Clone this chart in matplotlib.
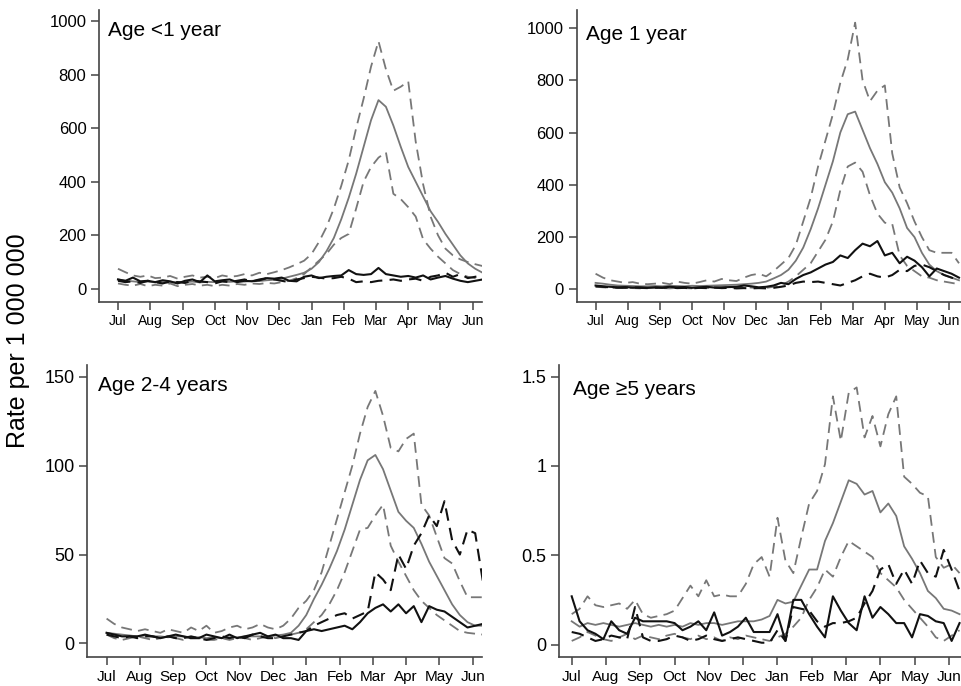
import numpy as np
import matplotlib.pyplot as plt

plt.rcParams['font.family'] = ['Liberation Sans', 'DejaVu Sans']

months = ['Jul', 'Aug', 'Sep', 'Oct', 'Nov', 'Dec', 'Jan', 'Feb', 'Mar', 'Apr', 'May', 'Jun']

# Age <1 year (weekly rates, Jul -> Jun)
lt1_mean = [35, 30, 28, 25, 27, 24, 25, 22, 26, 25, 27, 24, 26, 25, 27, 26, 28, 27, 30, 29, 32, 34,
            38, 45, 52, 60, 75, 100, 140, 190, 260, 340, 430, 530, 630, 705, 680, 610, 530, 455,
            400, 345, 290, 250, 205, 165, 125, 95, 75, 60]
lt1_max = [75, 62, 50, 45, 50, 40, 42, 48, 38, 45, 50, 42, 45, 40, 50, 45, 48, 55, 50, 60, 55, 62,
           70, 80, 92, 105, 130, 175, 230, 300, 385, 480, 600, 710, 830, 925, 820, 740, 755, 775,
           550, 390, 270, 200, 150, 125, 110, 100, 92, 85]
lt1_min = [20, 15, 12, 18, 10, 15, 12, 20, 10, 15, 18, 12, 15, 10, 15, 12, 18, 15, 20, 18, 22, 20,
           25, 30, 40, 55, 80, 105, 130, 165, 190, 205, 300, 400, 455, 490, 510, 355, 335, 305,
           270, 185, 150, 120, 95, 70, 55, 45, 40, 35]
lt1_post1 = [35, 30, 42, 28, 30, 25, 32, 28, 20, 30, 35, 25, 50, 28, 32, 35, 25, 30, 28, 35, 40, 38,
             42, 30, 28, 45, 50, 40, 45, 48, 50, 70, 55, 52, 55, 78, 55, 50, 45, 48,
             42, 50, 35, 42, 48, 38, 30, 25, 30, 35]
lt1_post2 = [30, 25, 28, 22, 30, 25, 20, 28, 25, 22, 30, 28, 25, 20, 28, 25, 30, 35, 28, 32, 40, 35,
             30, 25, 35, 40, 45, 42, 38, 40, 45, 38, 25, 28, 25, 30, 32, 35, 30, 35,
             38, 30, 45, 50, 60, 45, 55, 40, 45, 50]

# Age 1 year
a1_mean = [25, 22, 18, 15, 14, 13, 12, 12, 13, 12, 14, 13, 12, 14, 13, 14, 15, 16, 17, 18, 20, 22,
           25, 30, 42, 55, 75, 110, 160, 230, 310, 400, 490, 600, 670, 680, 610, 540, 480, 410,
           370, 310, 235, 200, 140, 95, 70, 55, 45, 35]
a1_max = [60, 45, 35, 30, 25, 28, 22, 20, 22, 25, 20, 30, 25, 22, 28, 35, 30, 40, 35, 32, 45, 55,
          60, 50, 70, 95, 120, 170, 260, 350, 470, 570, 670, 790, 880, 1020, 800, 720, 760, 780,
          520, 390, 330, 260, 200, 150, 140, 140, 140, 100]
a1_min = [10, 8, 6, 5, 6, 5, 4, 5, 6, 5, 4, 6, 5, 4, 6, 5, 7, 6, 8, 6, 8, 7,
          5, 6, 10, 15, 30, 50, 75, 100, 145, 190, 260, 380, 470, 485, 450, 360, 290, 255,
          250, 130, 90, 70, 50, 45, 35, 30, 25, 20]
a1_post1 = [15, 12, 10, 8, 9, 7, 8, 6, 8, 7, 10, 8, 9, 6, 8, 10, 7, 8, 9, 10, 15, 12,
            8, 10, 15, 25, 20, 40, 55, 65, 80, 95, 105, 130, 120, 150, 175, 165, 185, 130,
            140, 100, 125, 110, 85, 50, 80, 70, 60, 45]
a1_post2 = [12, 10, 8, 7, 6, 8, 6, 5, 7, 6, 8, 5, 6, 4, 6, 5, 7, 5, 6, 4, 5, 4,
            5, 4, 6, 10, 15, 25, 30, 28, 30, 25, 20, 15, 25, 35, 50, 60, 50, 45,
            55, 75, 70, 90, 95, 85, 70, 55, 45, 35]

# Age 2-4 years
a24_mean = [6, 5.5, 5, 4.5, 4, 4.5, 4, 4, 3.5, 4, 4, 3.5, 3.5, 3, 3.5, 3, 3.5, 3.5, 4, 4, 4, 4,
            4.5, 5, 6, 10, 16, 25, 33, 42, 52, 64, 78, 92, 103, 106, 98, 86, 74, 69,
            65, 56, 46, 38, 30, 22, 16, 12, 10, 10]
a24_max = [14, 11, 9, 8, 7, 8, 7, 6, 8, 7, 6, 9, 7, 10, 6, 7, 9, 10, 8, 9, 11, 9,
           8, 10, 14, 20, 24, 30, 40, 55, 70, 85, 100, 118, 133, 142, 128, 110, 108, 115,
           118, 78, 72, 60, 48, 45, 35, 26, 26, 26]
a24_min = [5, 3, 2, 3, 4, 3, 2, 3, 4, 3, 2, 3, 3, 2, 2, 3, 2, 3, 3, 2, 3, 4,
           3, 4, 5, 6, 8, 12, 16, 22, 30, 40, 52, 64, 65, 72, 78, 55, 46, 38,
           30, 24, 20, 16, 13, 10, 7, 6, 5.5, 5]
a24_post1 = [6, 5, 4, 4, 4, 5, 4, 3, 4, 5, 4, 3, 3, 5, 4, 3, 5, 3, 4, 5, 6, 4,
             5, 3, 3, 2, 7, 8, 7, 8, 9, 10, 8, 12, 17, 20, 22, 18, 22, 17,
             21, 12, 21, 19, 18, 15, 12, 9, 10, 11]
a24_post2 = [5, 4, 3, 4, 3, 4, 4, 3, 4, 3, 3, 4, 3, 2, 3, 4, 3, 4, 3, 5, 4, 3,
             3, 4, 5, 6, 7, 10, 12, 14, 16, 17, 14, 16, 18, 40, 36, 30, 50, 42,
             55, 62, 72, 66, 80, 58, 50, 64, 62, 35]

# Age >=5 years
a5_mean = [0.13, 0.1, 0.12, 0.11, 0.12, 0.11, 0.1, 0.11, 0.12, 0.11, 0.1, 0.11, 0.1, 0.11, 0.1,
           0.12, 0.11, 0.12, 0.12, 0.11, 0.12, 0.13, 0.13, 0.13, 0.14, 0.16, 0.25, 0.23, 0.24,
           0.33, 0.42, 0.42, 0.58, 0.68, 0.8, 0.92, 0.9, 0.84, 0.86, 0.74, 0.79, 0.72, 0.55,
           0.48, 0.4, 0.3, 0.26, 0.2, 0.19, 0.17]
a5_max = [0.17, 0.2, 0.27, 0.22, 0.21, 0.22, 0.23, 0.2, 0.25, 0.17, 0.15, 0.16, 0.17, 0.19, 0.26,
          0.33, 0.27, 0.36, 0.27, 0.28, 0.27, 0.27, 0.34, 0.45, 0.49, 0.38, 0.71, 0.47, 0.4,
          0.6, 0.79, 0.86, 1.01, 1.39, 1.14, 1.41, 1.44, 1.16, 1.28, 1.11, 1.29, 1.39, 0.94,
          0.9, 0.85, 0.83, 0.49, 0.43, 0.45, 0.4]
a5_min = [0.02, 0.04, 0.07, 0.05, 0.03, 0.02, 0.04, 0.06, 0.03, 0.05, 0.04, 0.03, 0.05, 0.06, 0.04,
          0.03, 0.05, 0.03, 0.04, 0.02, 0.04, 0.03, 0.05, 0.04, 0.03, 0.02, 0.04, 0.06, 0.1,
          0.15, 0.25, 0.32, 0.42, 0.38, 0.49, 0.58, 0.55, 0.52, 0.49, 0.4, 0.36, 0.32, 0.25,
          0.2, 0.15, 0.1, 0.04, 0.02, 0.05, 0.08]
a5_post1 = [0.27, 0.13, 0.08, 0.06, 0.03, 0.13, 0.08, 0.06, 0.15, 0.13, 0.13, 0.13, 0.13, 0.12, 0.08,
            0.1, 0.13, 0.08, 0.18, 0.05, 0.07, 0.1, 0.15, 0.07, 0.07, 0.07, 0.17, 0.02, 0.25,
            0.25, 0.17, 0.1, 0.04, 0.27, 0.19, 0.12, 0.08, 0.27, 0.15, 0.21, 0.17, 0.12, 0.12,
            0.04, 0.17, 0.16, 0.13, 0.12, 0.02, 0.12]
a5_post2 = [0.07, 0.06, 0.04, 0.02, 0.03, 0.05, 0.04, 0.03, 0.21, 0.04, 0.02, 0.02, 0.03, 0.05, 0.04,
            0.02, 0.03, 0.05, 0.03, 0.02, 0.03, 0.04, 0.03, 0.02, 0.01, 0.01, 0.08, 0.02, 0.21,
            0.2, 0.19, 0.13, 0.1, 0.12, 0.12, 0.13, 0.15, 0.23, 0.3, 0.42, 0.45, 0.34, 0.42,
            0.34, 0.47, 0.4, 0.38, 0.53, 0.42, 0.3]

GRAY = '#777777'
BLACK = '#111111'


def draw_panel(ax, title, mean, vmax, vmin, post1, post2, yticks, ylim, xlim, title_xy, fs_tick):
    weeks = np.arange(len(mean)) * 12 / 52
    ax.plot(weeks, vmax, color=GRAY, lw=1.3, ls=(0, (6, 3.5)))
    ax.plot(weeks, vmin, color=GRAY, lw=1.3, ls=(0, (6, 3.5)))
    ax.plot(weeks, mean, color=GRAY, lw=1.3)
    ax.plot(weeks, post2, color=BLACK, lw=1.5, ls=(0, (6, 3.5)))
    ax.plot(weeks, post1, color=BLACK, lw=1.5)

    ax.set_xlim(*xlim)
    ax.set_ylim(*ylim)
    ax.set_xticks(range(12))
    ax.set_xticklabels(months, fontsize=fs_tick[0])
    ax.set_yticks(yticks)
    ax.set_yticklabels(['%g' % t for t in yticks], fontsize=fs_tick[1])
    for s in ['top', 'right']:
        ax.spines[s].set_visible(False)
    for s in ['left', 'bottom']:
        ax.spines[s].set_color('#444444')
        ax.spines[s].set_linewidth(1.2)
    ax.tick_params(length=6, width=1.1, color='#444444', pad=3)
    ax.text(title_xy[0], title_xy[1], title, transform=ax.transAxes, fontsize=15, va='baseline')


fig = plt.figure(figsize=(9.61, 6.86), dpi=100)

ax1 = fig.add_axes([0.103, 0.560, 0.399, 0.426])
draw_panel(ax1, 'Age <1 year', lt1_mean, lt1_max, lt1_min, lt1_post1, lt1_post2,
           [0, 200, 400, 600, 800, 1000], (-48.6, 1043), (-0.59, 11.3), (0.024, 0.909), (10, 12))

ax2 = fig.add_axes([0.600, 0.560, 0.400, 0.426])
draw_panel(ax2, 'Age 1 year', a1_mean, a1_max, a1_min, a1_post1, a1_post2,
           [0, 200, 400, 600, 800, 1000], (-47.5, 1070), (-0.59, 11.37), (0.025, 0.897), (10, 12))

ax3 = fig.add_axes([0.0905, 0.042, 0.411, 0.426])
draw_panel(ax3, 'Age 2-4 years', a24_mean, a24_max, a24_min, a24_post1, a24_post2,
           [0, 50, 100, 150], (-7.7, 156.6), (-0.59, 11.28), (0.029, 0.911), (11, 13))

ax4 = fig.add_axes([0.5817, 0.042, 0.4183, 0.426])
draw_panel(ax4, 'Age \u22655 years', a5_mean, a5_max, a5_min, a5_post1, a5_post2,
           [0, 0.5, 1, 1.5], (-0.071, 1.566), (-0.37, 11.35), (0.036, 0.897), (11, 13))

fig.text(0.0187, 0.503, 'Rate per 1 000 000', rotation=90, fontsize=18, ha='center', va='center')

fig.savefig('out.png', dpi=100)
